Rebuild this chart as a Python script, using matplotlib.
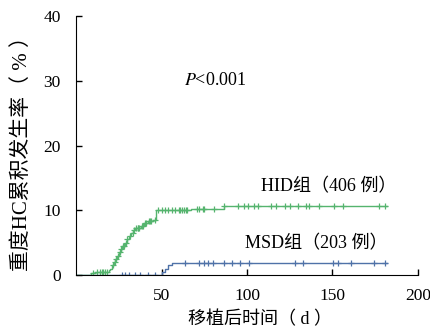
import numpy as np
import matplotlib
matplotlib.use("Agg")
import matplotlib.pyplot as plt

plt.rcParams['font.family'] = ['Liberation Serif', 'Noto Sans CJK SC']
plt.rcParams['mathtext.fontset'] = 'stix'

# HID group: step times (d) and cumulative incidence (%)
hid_t = [0, 8.5, 11, 19, 20, 21, 22, 23, 24, 25, 26, 27, 28.5, 29.5, 31, 32, 33.5, 34.5,
         38, 40, 42, 45, 47, 67, 86.5, 182]
hid_y = [0, 0.25, 0.5, 0.75, 1.0, 1.5, 2.0, 2.5, 3.0, 3.5, 4.0, 4.5, 5.0, 5.5, 6.0, 6.5, 7.0, 7.3,
         7.6, 8.0, 8.3, 8.5, 10.0, 10.2, 10.7, 10.7]
hid_cens = [10, 12, 14, 15, 16, 17, 18, 21.5, 22.5, 23.5, 24.5, 25.5, 26.5, 27.5, 28, 29, 30,
            31.5, 33, 34, 35, 36, 36.5, 37, 38.5, 39, 40.5, 41, 42.5, 43, 44, 46,
            48, 50, 52, 54, 56, 57.6, 60, 61, 62, 63, 64, 65, 71, 72, 74, 75, 80.5,
            86.5, 95, 98, 100.5, 104, 106.5, 114, 117, 122, 125, 130, 134.5, 136.5,
            142, 151, 156, 177, 181]

# MSD group
msd_t = [0, 50.5, 52, 54, 56, 182]
msd_y = [0, 0.5, 1.0, 1.5, 1.9, 1.9]
msd_cens = [27, 28.5, 31, 34.5, 37.5, 42, 46, 63.5, 72, 75, 77, 80, 86.5, 91, 96, 101,
            128, 133, 150.5, 153.5, 161, 174, 181]

green = '#55b46e'
blue = '#4f72a8'

fig = plt.figure(figsize=(4.3, 3.35), dpi=100)
ax = fig.add_axes([0.177, 0.179, 0.795, 0.773])

for t, y, cens, col in [(msd_t, msd_y, msd_cens, blue), (hid_t, hid_y, hid_cens, green)]:
    ax.step(t, y, where='post', color=col, lw=1.0)
    cy = [y[np.searchsorted(t, c, side='right') - 1] for c in cens]
    ax.plot(cens, cy, '+', color=col, ms=4, mew=0.9, ls='none')

ax.set_xlim(0, 200)
ax.set_ylim(0, 40)
ax.set_xticks([50, 100, 150, 200])
ax.set_yticks([0, 10, 20, 30, 40])
ax.tick_params(direction='in', length=4, width=1, labelsize=12.5)
ax.tick_params(axis='x', pad=9)
ax.tick_params(axis='y', pad=11)
ax.spines['top'].set_visible(False)
ax.spines['right'].set_visible(False)
ax.set_xlabel('移植后时间（ d ）', fontsize=13, va='center')
ax.set_ylabel('重度HC累积发生率（ % ）', fontsize=15, va='center')
ax.xaxis.set_label_coords(0.537, -0.17)
ax.yaxis.set_label_coords(-0.158, 0.49)

ax.text(63, 30, r'$P$<0.001', fontsize=13, ha='left', va='center')
ax.text(148, 13.7, 'HID组（406 例）', fontsize=13, ha='center', va='center')
ax.text(140.5, 4.8, 'MSD组（203 例）', fontsize=13, ha='center', va='center')

fig.savefig('out.png', dpi=100)
